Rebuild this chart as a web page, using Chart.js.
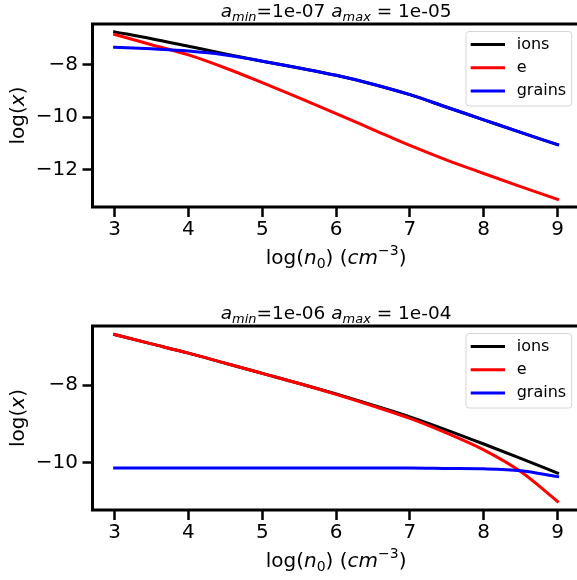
<!DOCTYPE html>
<html><head><meta charset="utf-8">
<script src="https://cdn.jsdelivr.net/npm/chart.js@4"></script>
<style>
html,body{margin:0;padding:0;background:#fff;overflow:hidden;width:577px;height:580px;}
.w{position:absolute;left:0;width:600px;height:290px;}
</style></head><body>
<div class="w" style="top:0"><canvas id="c1" width="600" height="290"></canvas></div>
<div class="w" style="top:290px"><canvas id="c2" width="600" height="290"></canvas></div>
<script>
// ---- data ----
const xValues = [3, 3.5, 4, 4.5, 5, 5.5, 6, 6.5, 7, 7.5, 8, 8.5, 9];
const seriesNames = ['ions', 'e', 'grains'];
const ionsTop   = [-6.74, -7.00, -7.29, -7.58, -7.86, -8.12, -8.40, -8.74, -9.14, -9.62, -10.10, -10.58, -11.05];
const eTop      = [-6.84, -7.23, -7.62, -8.12, -8.68, -9.26, -9.86, -10.47, -11.08, -11.64, -12.15, -12.65, -13.14];
const grainsTop = [-7.33, -7.39, -7.47, -7.62, -7.86, -8.12, -8.40, -8.74, -9.14, -9.62, -10.10, -10.58, -11.05];
const ionsBot   = [-6.70, -6.94, -7.18, -7.44, -7.70, -7.96, -8.23, -8.52, -8.82, -9.16, -9.52, -9.89, -10.27];
const eBot      = [-6.70, -6.94, -7.18, -7.44, -7.70, -7.96, -8.24, -8.54, -8.86, -9.24, -9.67, -10.23, -11.00];
const grainsBot = [-10.14, -10.14, -10.14, -10.14, -10.14, -10.14, -10.14, -10.14, -10.14, -10.15, -10.16, -10.21, -10.36];
const xTicks = [3, 4, 5, 6, 7, 8, 9];
const xTickLabels = ['3', '4', '5', '6', '7', '8', '9'];
const yTicksTop = [-8, -10, -12];
const yTicksBot = [-8, -10];
const titleTop = {amin: '1e-07', amax: '1e-05'};
const titleBot = {amin: '1e-06', amax: '1e-04'};

const colors = ['#000000', '#ff0000', '#0000ff'];
const FONT = '"DejaVu Sans"';

function pts(ys) { return xValues.map((x, i) => ({x: x, y: ys[i]})); }

function drawRich(ctx, parts, cx, baseY, size) {
  let total = 0;
  const fontOf = p => (p.it ? 'italic ' : '') + ((p.sub || p.sup) ? size * 0.7 : size) + 'px ' + FONT;
  parts.forEach(p => { ctx.font = fontOf(p); p.w = ctx.measureText(p.t).width; total += p.w; });
  let x = cx - total / 2;
  ctx.textAlign = 'left';
  ctx.textBaseline = 'alphabetic';
  ctx.fillStyle = '#000';
  parts.forEach(p => {
    ctx.font = fontOf(p);
    let dy = p.sub ? size * 0.22 : (p.sup ? -size * 0.42 : 0);
    ctx.fillText(p.t, x, baseY + dy);
    x += p.w;
  });
}

function makeDecor(title) {
  return {
    id: 'decor',
    afterDatasetsDraw(chart) {
      const ctx = chart.ctx, ca = chart.chartArea;
      ctx.save();
      ctx.strokeStyle = '#000';
      ctx.lineWidth = 3;
      ctx.strokeRect(ca.left, ca.top, ca.right - ca.left, ca.bottom - ca.top);
      ctx.restore();
    },
    afterDraw(chart) {
      const ctx = chart.ctx, ca = chart.chartArea;
      ctx.save();
      const cx = (ca.left + ca.right) / 2;
      // title
      drawRich(ctx, [
        {t: 'a', it: true}, {t: 'min', it: true, sub: true}, {t: '=' + title.amin + ' '},
        {t: 'a', it: true}, {t: 'max', it: true, sub: true}, {t: ' = ' + title.amax}
      ], cx, ca.top - 6.7, 18.5);
      // x label
      drawRich(ctx, [
        {t: 'log('}, {t: 'n', it: true}, {t: '0', sub: true}, {t: ') ('},
        {t: 'cm', it: true}, {t: '\u22123', sup: true}, {t: ')'}
      ], cx, ca.bottom + 56.5, 20);
      // y label
      ctx.translate(23.5, (ca.top + ca.bottom) / 2);
      ctx.rotate(-Math.PI / 2);
      drawRich(ctx, [{t: 'log('}, {t: 'x', it: true}, {t: ')'}], 0, 0, 20);
      ctx.restore();
      // legend
      ctx.save();
      const bx = 466, by = ca.top + 7.5, bw = 105.7, bh = 74.5;
      ctx.beginPath();
      ctx.roundRect(bx, by, bw, bh, 3);
      ctx.fillStyle = 'rgba(255,255,255,0.8)';
      ctx.fill();
      ctx.strokeStyle = '#d6d6d6';
      ctx.lineWidth = 1;
      ctx.stroke();
      seriesNames.forEach((n, i) => {
        const y = ca.top + 20.5 + i * 23.3;
        ctx.beginPath();
        ctx.moveTo(470.7, y); ctx.lineTo(505, y);
        ctx.strokeStyle = colors[i]; ctx.lineWidth = 3; ctx.lineCap = 'butt';
        ctx.stroke();
        ctx.fillStyle = '#000';
        ctx.font = '16px ' + FONT;
        ctx.textAlign = 'left';
        ctx.textBaseline = 'middle';
        ctx.fillText(n, 516.7, y);
      });
      ctx.restore();
    }
  };
}

function makeChart(id, ions, e, grains, yMin, yMax, yTicks, padTop, xH, title) {
  const data = [ions, e, grains];
  return new Chart(document.getElementById(id), {
    type: 'line',
    data: {
      datasets: seriesNames.map((n, i) => ({
        label: n, data: pts(data[i]), borderColor: colors[i], backgroundColor: colors[i],
        borderWidth: 3, pointRadius: 0, fill: false, cubicInterpolationMode: 'monotone',
        borderCapStyle: 'square', borderJoinStyle: 'round', order: 2 - i
      }))
    },
    options: {
      responsive: false, animation: false, devicePixelRatio: 1,
      layout: {padding: {top: padTop, left: 0, right: 20.3, bottom: 0}},
      plugins: {legend: {display: false}, tooltip: {enabled: false}, title: {display: false}},
      scales: {
        x: {
          type: 'linear', min: 2.7, max: 9.3,
          afterBuildTicks: s => { s.ticks = xTicks.map(v => ({value: v})); },
          afterFit: s => { s.height = xH; },
          ticks: {color: '#000', font: {family: 'DejaVu Sans', size: 20}, padding: 1, maxRotation: 0, autoSkip: false,
            callback: (v) => { const k = xTicks.indexOf(v); return k >= 0 ? xTickLabels[k] : ''; }},
          grid: {drawOnChartArea: false, drawTicks: true, tickLength: 10, tickWidth: 2.5, tickColor: '#000', color: '#000'},
          border: {display: false}
        },
        y: {
          type: 'linear', min: yMin, max: yMax,
          afterBuildTicks: s => { s.ticks = yTicks.map(v => ({value: v})); },
          afterFit: s => { s.width = 92.5; },
          ticks: {color: '#000', font: {family: 'DejaVu Sans', size: 20}, padding: 4.5, autoSkip: false,
            callback: (v) => (v < 0 ? '\u2212' : '') + Math.abs(v)},
          grid: {drawOnChartArea: false, drawTicks: true, tickLength: 10, tickWidth: 2.5, tickColor: '#000', color: '#000'},
          border: {display: false}
        }
      }
    },
    plugins: [makeDecor(title)]
  });
}

makeChart('c1', ionsTop, eTop, grainsTop, -13.43, -6.44, yTicksTop, 24, 83, titleTop);
makeChart('c2', ionsBot, eBot, grainsBot, -11.22, -6.48, yTicksBot, 36, 70, titleBot);
</script>
</body></html>
